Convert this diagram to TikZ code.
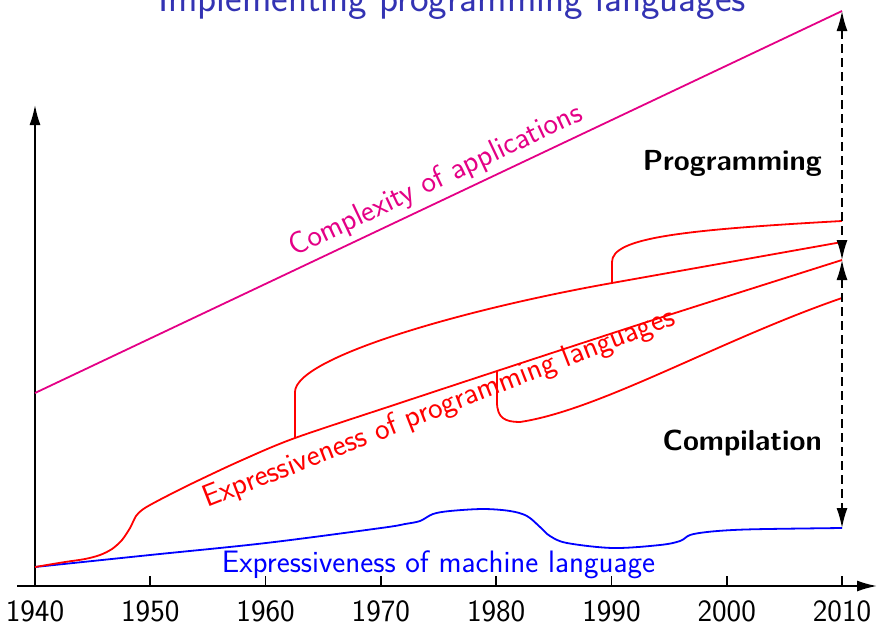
\documentclass[tikz,border=0pt]{standalone}
\usepackage{fontspec}
\usetikzlibrary{arrows.meta}
\definecolor{titleblue}{RGB}{51,51,179}
\definecolor{appmagenta}{RGB}{228,0,134}

\begin{document}
\begin{tikzpicture}[x=1pt,y=-1pt,
  tip/.tip={Latex[length=20pt,width=11pt]},
  axisline/.style={line width=1.8pt, -tip},
  plotline/.style={line width=1.8pt, line join=round},
  spanarrow/.style={line width=1.6pt, dash pattern=on 9pt off 5pt, tip-tip},
  lbl/.style={font=\sffamily\fontsize{31}{36}\selectfont, inner sep=0pt},
  sidelabel/.style={font=\sffamily\bfseries\fontsize{29}{34}\selectfont, anchor=base east, inner sep=0pt},
  yearlabel/.style={lbl, anchor=base},
]
\useasboundingbox (0,0) rectangle (878,627);
\clip (0,0) rectangle (878,627);

% title
\node[font=\sffamily\fontsize{39.5}{45}\selectfont, text=titleblue, anchor=base, inner sep=0pt]
  (title) at (452,11) {Implementing programming languages};

% axes
\coordinate (O)  at (35,586);
\coordinate (xs) at (17,586);
\coordinate (xe) at (877,586);
\coordinate (ye) at (35,105);
\draw[axisline] (xs) -- (xe);
\draw[axisline] (O) -- (ye);

% year ticks
\foreach \yr [count=\i from 0] in {1940,1950,...,2010} {
  \coordinate (t\yr) at ({35+\i*115.286},586);
  \draw[line width=1.8pt] (t\yr) -- ++(0,-10);
  \node[yearlabel] (y\yr) at ({35+\i*115.286},621) {\yr};
}

% key end points on the 2010 line
\coordinate (c0) at (35,393);   % complexity, 1940
\coordinate (c1) at (842,11);   % complexity, 2010
\coordinate (pe) at (842,260);  % programming languages, 2010
\coordinate (me) at (842,528);  % machine language, 2010

% complexity of applications
\draw[plotline, appmagenta] (c0) -- node[lbl, text=appmagenta, sloped, above=5pt, pos=0.508] (cl) {Complexity of applications} (c1);

% expressiveness of machine language
\draw[plotline, blue] plot[smooth, tension=0.55] coordinates {
  (35,567) (150,555) (266,543) (381,528) (405,524) (420,521) (433,514) (450,511)
  (483,509) (510,511) (527,516) (540,527) (550,536) (567,543) (613,548) (660,545)
  (680,541) (690,535) (707,532) (733,530) (767,529) (842,528)};
\node[lbl, text=blue, anchor=base] (ml) at (438.5,572) {Expressiveness of machine language};

% expressiveness of programming languages
\draw[plotline, red] plot[smooth, tension=0.5] coordinates {
  (35,567) (65,562) (85,559) (100,555) (112,549) (122,540) (130,528) (136,516)
  (142,510) (150,505) (167,496) (193,483) (240,461) (295,438) (400,403) (497,371)
  (650,321) (842,260)};
\node[lbl, text=red, rotate=21.4, anchor=base] (pl) at (442,416) {Expressiveness of programming languages};

% branch from 1962
\draw[plotline, red] (295,438) -- (295,392) .. controls (295,358) and (460,310) .. (612,283) -- (842,242);
% branch from 1990
\draw[plotline, red] (612,283) -- (612,262) .. controls (612,238) and (680,230) .. (842,221);
% branch from 1980
\draw[plotline, red] (497,371) -- (497,402) .. controls (497,418) and (505,422) .. (520,422)
  .. controls (600,410) and (720,340) .. (842,298);

% programming and compilation gaps
\draw[spanarrow] (c1) -- (pe);
\draw[spanarrow] (pe) -- (me);
\node[sidelabel] (prog) at (822,170) {Programming};
\node[sidelabel] (comp) at (822,450) {Compilation};
\end{tikzpicture}
\end{document}
